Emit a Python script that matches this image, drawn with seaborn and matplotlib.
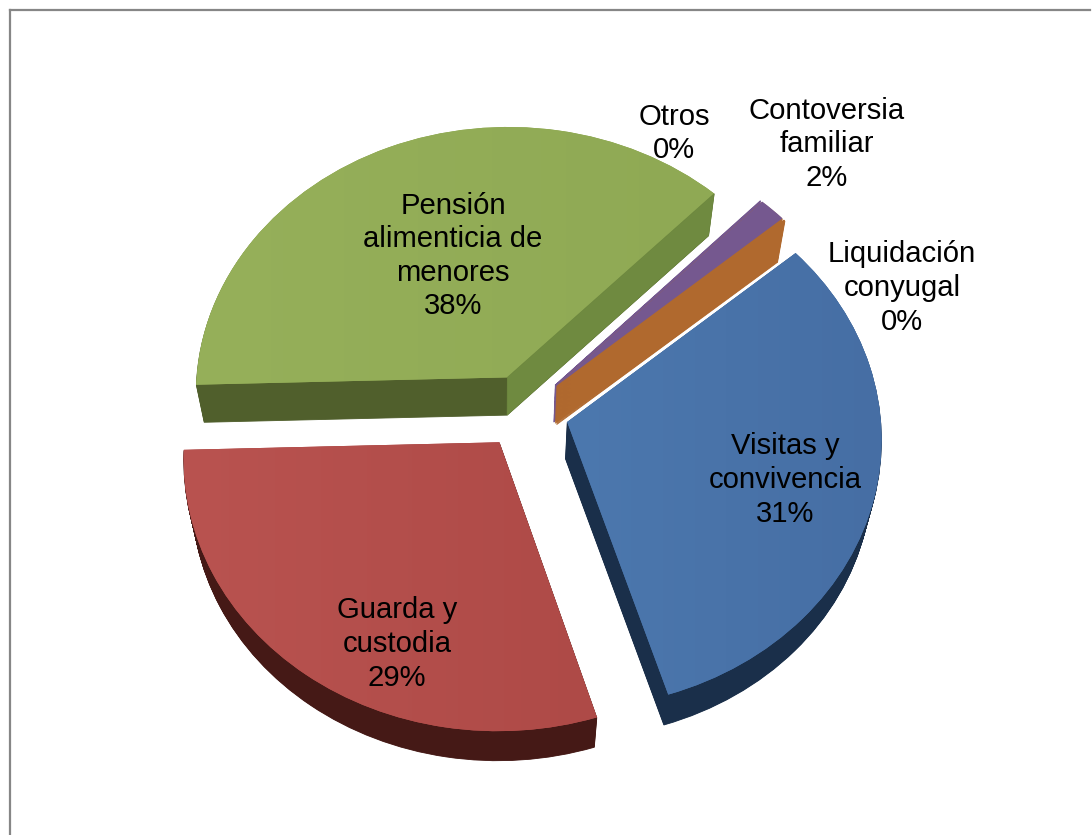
import numpy as np
import pandas as pd
import seaborn as sns
import matplotlib
matplotlib.use("Agg")
import matplotlib.pyplot as plt
from matplotlib.transforms import Transform
from matplotlib.colors import LinearSegmentedColormap

# ---- data
categories = ["Visitas y\nconvivencia", "Guarda y\ncustodia", "Pensión\nalimenticia de\nmenores",
              "Otros", "Contoversia\nfamiliar", "Liquidación\nconyugal"]
values = [31.45, 29.36, 37.58, 0.02, 1.5, 0.09]

# ---- styles
top_light = ["#4c78ae", "#b95350", "#96b05a", "#75588f", "#75588f", "#b0692e"]
top_dark = ["#466ea4", "#ae4a47", "#8fa954", "#75588f", "#75588f", "#b0692e"]
wall_colors = ["#1a2f4a", "#451916", "#505f2c", "#75588f", "#b0692e", "#b0692e"]
cut_wall_color = "#6f8a40"
label_pos = [(785, 480), (397, 644), (453, 256), (674, 133.5), (827, 144.5), (902, 288)]
explode = 0.14
start_angle = 40.5

sns.set_theme(style="white")
plt.rcParams["font.family"] = ["Liberation Sans", "DejaVu Sans"]
df = pd.DataFrame({"category": categories, "value": values})

W, H = 1092, 835
CX, CY, BX, AY, K = 525.0, 411.5, 313.0, 268.6, 0.0575


def project(uv, t=0.0):
    uv = np.asarray(uv, dtype=float)
    s = 1 + K * uv[:, 1]
    x = CX + BX * uv[:, 0] / s
    y = CY - AY * uv[:, 1] / s
    return np.column_stack([x + t * (500 - x) * 0.026, y + t * (46.5 - 0.0232 * y)])


class PieProjection(Transform):
    input_dims = output_dims = 2
    is_affine = False
    has_inverse = False

    def __init__(self, t=0.0):
        super().__init__()
        self.t = t

    def transform_non_affine(self, values):
        return project(values, self.t)


fig = plt.figure(figsize=(W / 100, H / 100), dpi=100, facecolor="white")

# outer chart frame: only left and top edges are visible
fax = fig.add_axes([9.5 / W, 0, (1090 - 9.5) / W, 1 - 9.5 / H])
fax.set_xticks([])
fax.set_yticks([])
sns.despine(ax=fax, top=False, right=True, bottom=True, left=False)
for side in ("left", "top"):
    fax.spines[side].set_color("#868686")
    fax.spines[side].set_linewidth(1.6)

ax = fig.add_axes([0, 0, 1, 1], zorder=2)
ax.patch.set_alpha(0)
explodes = [explode] * len(df)

# extruded walls as a stack of pies
for t in np.linspace(1, 0.02, 45):
    layer, _ = ax.pie(df["value"], explode=explodes, startangle=start_angle, counterclock=False,
                      colors=wall_colors, radius=1,
                      wedgeprops=dict(transform=PieProjection(t) + ax.transData, linewidth=0.6))
    for w in layer:
        w.set_edgecolor(w.get_facecolor())

# top surface
wedges, _ = ax.pie(df["value"], explode=explodes, startangle=start_angle, counterclock=False,
                   colors=top_light, radius=1,
                   wedgeprops=dict(transform=PieProjection(0.0) + ax.transData, linewidth=0))

# lit cut wall of the green slice, derived from the wedge geometry
gw = wedges[2]
ang = np.deg2rad(gw.theta1)
c = np.array(gw.center)
edge = np.array([c, c + gw.r * np.array([np.cos(ang), np.sin(ang)])])
quad = np.vstack([project(edge, 0.0), project(edge, 1.0)[::-1]])
ax.fill(quad[:, 0], quad[:, 1], color=cut_wall_color, lw=0.5, zorder=1.5)

ax.set_frame_on(False)

# subtle left-to-right gradient on the three large slices
grad = np.linspace(0, 1, 256).reshape(1, -1)
for i in range(3):
    cmap = LinearSegmentedColormap.from_list("g", [top_light[i], top_dark[i]])
    pts = project(np.array(wedges[i].get_path().vertices), 0.0)
    im = ax.imshow(grad, cmap=cmap, extent=(pts[:, 0].min(), pts[:, 0].max(), H, 0),
                   aspect="auto", zorder=wedges[i].get_zorder() + 0.1)
    im.set_clip_path(wedges[i])
ax.set_aspect("auto")
ax.set_xlim(0, W)
ax.set_ylim(H, 0)

for (x, y), name, v in zip(label_pos, df["category"], df["value"]):
    ax.text(x, y, f"{name}\n{round(v)}%", ha="center", va="center", fontsize=21.1,
            color="black", linespacing=1.255, zorder=5)

fig.savefig("out.png", dpi=100)
